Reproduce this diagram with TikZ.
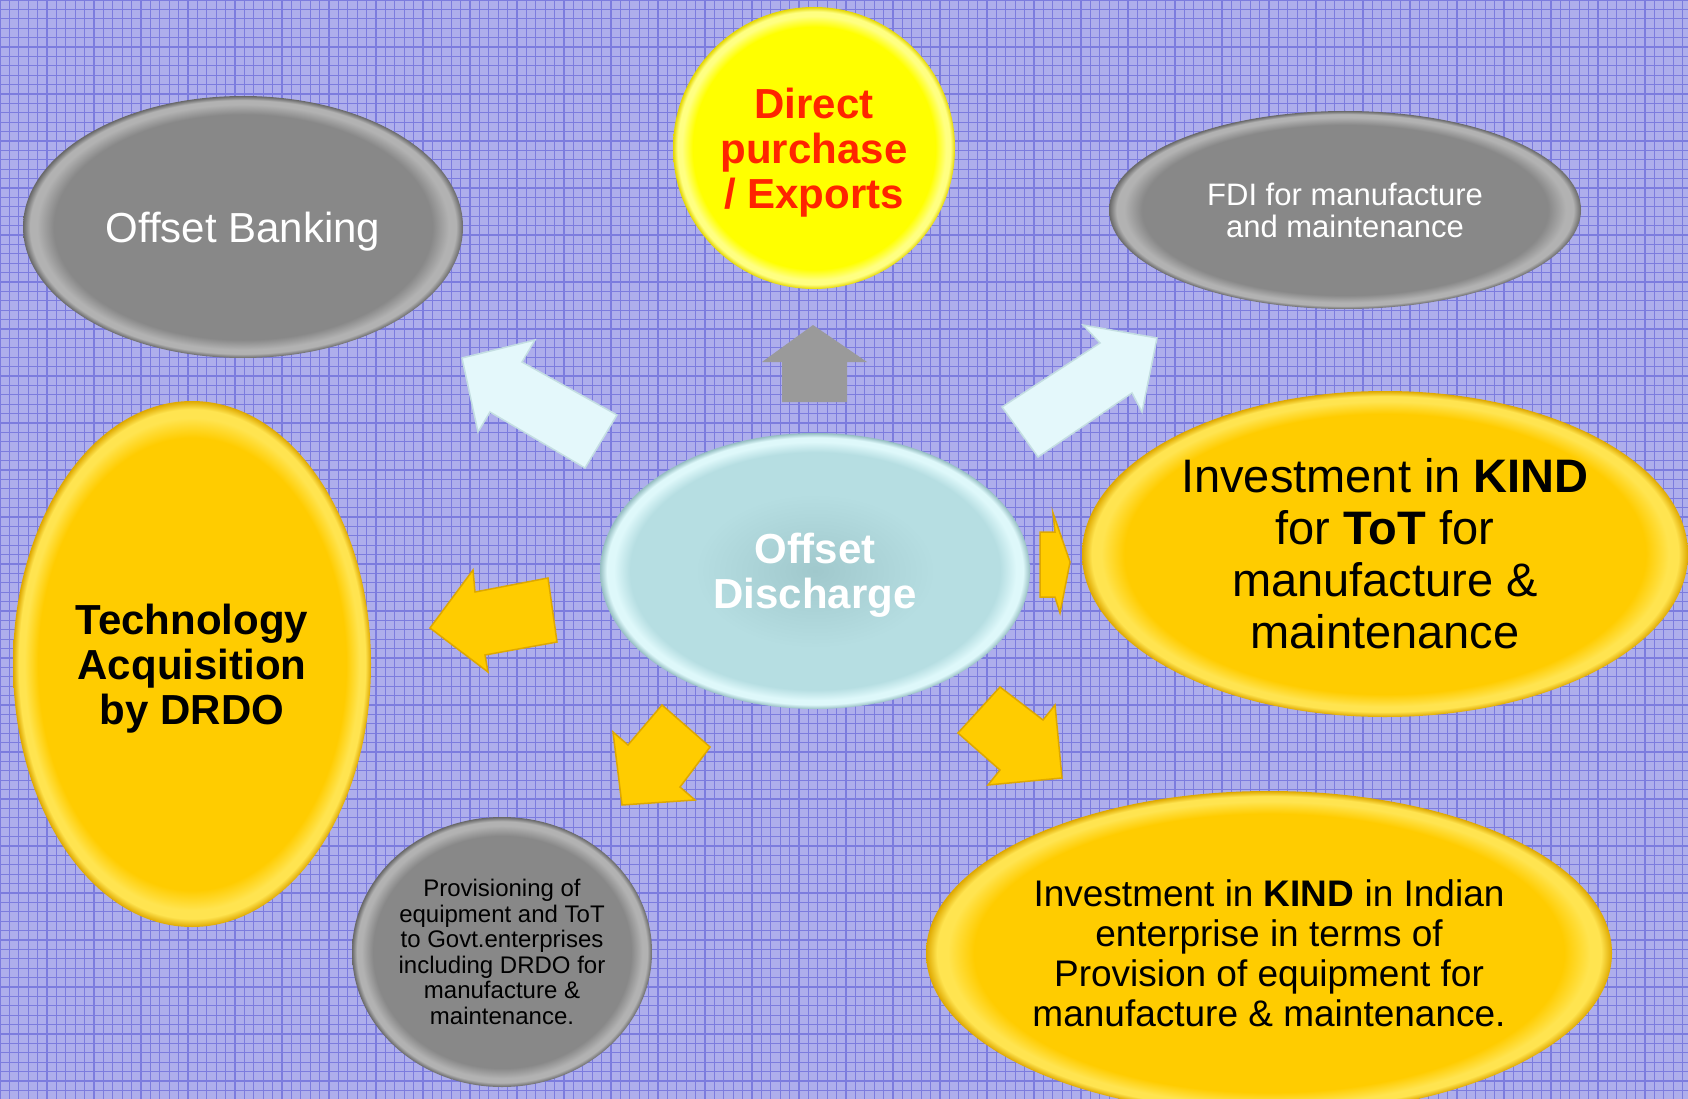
\documentclass[tikz,border=0pt]{standalone}
\usepackage{fontspec}
\setmainfont{Liberation Sans}
\usetikzlibrary{shapes.geometric}

\definecolor{bgblue}{RGB}{174,174,236}
\definecolor{gridblue}{RGB}{124,124,222}
\definecolor{graybase}{RGB}{136,136,136}
\definecolor{graylight}{RGB}{178,178,178}
\definecolor{graydark}{RGB}{104,104,104}
\definecolor{goldbase}{RGB}{255,204,0}
\definecolor{goldlight}{RGB}{255,228,80}
\definecolor{golddark}{RGB}{222,168,0}
\definecolor{lemonbase}{RGB}{255,255,0}
\definecolor{lemonlight}{RGB}{255,255,130}
\definecolor{lemondark}{RGB}{228,214,0}
\definecolor{icecenter}{RGB}{160,200,204}
\definecolor{icebase}{RGB}{182,222,226}
\definecolor{icelight}{RGB}{222,248,250}
\definecolor{icedark}{RGB}{150,190,194}
\definecolor{paleblue}{RGB}{228,248,251}
\definecolor{paleedge}{RGB}{196,222,226}
\definecolor{arrowgray}{RGB}{154,154,154}
\definecolor{offsetred}{RGB}{255,36,0}

% bevelled rims for the bubbles
\pgfdeclareradialshading{grayrim}{\pgfpoint{0bp}{0bp}}{color(0bp)=(graybase); color(21.5bp)=(graybase); color(23.4bp)=(graylight); color(24.2bp)=(graylight); color(25bp)=(graydark); color(50bp)=(graydark)}
\pgfdeclareradialshading{goldrim}{\pgfpoint{0bp}{0bp}}{color(0bp)=(goldbase); color(21.5bp)=(goldbase); color(23.4bp)=(goldlight); color(24.2bp)=(goldlight); color(25bp)=(golddark); color(50bp)=(golddark)}
\pgfdeclareradialshading{lemonrim}{\pgfpoint{0bp}{0bp}}{color(0bp)=(lemonbase); color(21.5bp)=(lemonbase); color(23.4bp)=(lemonlight); color(24.2bp)=(lemonlight); color(25bp)=(lemondark); color(50bp)=(lemondark)}
\pgfdeclareradialshading{icerim}{\pgfpoint{0bp}{0bp}}{color(0bp)=(icecenter); color(14bp)=(icebase); color(21.5bp)=(icebase); color(23.4bp)=(icelight); color(24.2bp)=(icelight); color(25bp)=(icedark); color(50bp)=(icedark)}

\tikzset{
  bubble/.style={ellipse, inner sep=0pt, align=center},
  graybubble/.style={bubble, shading=grayrim, text=white},
  goldbubble/.style={bubble, shading=goldrim, text=black},
  gridline/.style={gridblue, line width=1.1pt},
  palearrow/.style={fill=paleblue, draw=paleedge, line width=1.5pt},
  goldarrow/.style={fill=goldbase, draw=golddark, line width=1.5pt},
}

\begin{document}
\begin{tikzpicture}[x=1pt,y=-1pt]

% background paper
\useasboundingbox (0,0) rectangle (1688,1099);
\clip (0,0) rectangle (1688,1099);
\fill[bgblue] (0,0) rectangle (1688,1099);
\foreach \i in {0,...,180} \draw[gridline] (\i*9.4,0) -- (\i*9.4,1099);
\foreach \j in {0,...,117} \draw[gridline] (0,\j*9.4) -- (1688,\j*9.4);

% bubbles
\node[graybubble, minimum width=440, minimum height=262, text depth=0pt,
      font=\fontsize{42}{46}\selectfont] (banking) at (243,227) {Offset Banking};
\node[bubble, shading=lemonrim, text=offsetred, minimum width=282, minimum height=282, text depth=0pt,
      font=\fontsize{42}{45}\selectfont\bfseries] (direct) at (814,148) {Direct\\purchase\\/ Exports};
\node[graybubble, minimum width=472, minimum height=198,
      font=\fontsize{31}{32}\selectfont] (fdi) at (1345,210) {FDI for manufacture\\and maintenance};
\node[goldbubble, minimum width=358, minimum height=526, text depth=0pt,
      font=\fontsize{42}{45}\selectfont\bfseries] (techacq) at (192,664) {Technology\\Acquisition\\by DRDO};
\node[bubble, shading=icerim, text=white, minimum width=430, minimum height=276, text depth=0pt,
      font=\fontsize{42}{45}\selectfont\bfseries] (discharge) at (815,571) {Offset\\Discharge};
\node[goldbubble, minimum width=606, minimum height=326,
      font=\fontsize{47}{52}\selectfont] (kindtot) at (1385,554)
      {Investment in \textbf{KIND}\\for \textbf{ToT} for\\manufacture \&\\maintenance};
\node[goldbubble, minimum width=686, minimum height=324,
      font=\fontsize{37}{40}\selectfont] (kindind) at (1269,953)
      {Investment in \textbf{KIND} in Indian\\enterprise in terms of\\Provision of equipment for\\manufacture \& maintenance.};
\node[graybubble, text=black, minimum width=300, minimum height=270,
      font=\fontsize{24}{25.5}\selectfont] (provision) at (502,952)
      {Provisioning of\\equipment and ToT\\to Govt.enterprises\\including DRDO for\\manufacture \&\\maintenance.};

% block arrows out of the discharge bubble
\fill[arrowgray] (813,325) -- (867,362) -- (847,362) -- (847,402) -- (782,402) -- (782,362) -- (762,362) -- cycle;
\filldraw[palearrow] (462,358) -- (535,340) -- (522,362) -- (617,415) -- (585,468) -- (490,412) -- (478,432) -- cycle;
\filldraw[palearrow] (1157,338) -- (1142,412) -- (1132,393) -- (1038,457) -- (1002,407) -- (1100,343) -- (1083,325) -- cycle;
\filldraw[goldarrow] (1070,562) -- (1060,613) -- (1055,597) -- (1040,597) -- (1040,532) -- (1055,532) -- (1053,513) -- cycle;
\filldraw[goldarrow] (1062,778) -- (988,785) -- (1000,770) -- (958,733) -- (1000,687) -- (1043,720) -- (1055,705) -- cycle;
\filldraw[goldarrow] (622,805) -- (613,732) -- (628,745) -- (662,705) -- (710,747) -- (680,787) -- (695,800) -- cycle;
\filldraw[goldarrow] (430,628) -- (473,570) -- (475,592) -- (548,578) -- (557,642) -- (485,655) -- (488,672) -- cycle;

\end{tikzpicture}
\end{document}
